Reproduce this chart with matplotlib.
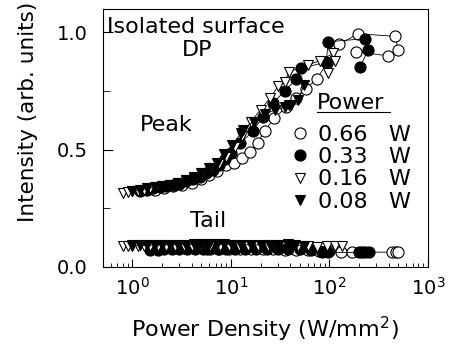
import numpy as np
import matplotlib.pyplot as plt
from matplotlib.lines import Line2D
from matplotlib.ticker import LogLocator, MultipleLocator, NullFormatter

# --- peak data ---
pk_066_x = [1.7, 2.1, 2.6, 3.2, 4.0, 5.0, 6.0, 7.3, 8.9, 10.8, 12.9, 15.5, 18.7, 22, 27.6, 36, 46, 58, 74, 95, 126, 196, 466, 500, 398, 188]
pk_066_y = [0.33, 0.335, 0.345, 0.35, 0.36, 0.375, 0.39, 0.41, 0.436, 0.445, 0.465, 0.49, 0.53, 0.58, 0.634, 0.68, 0.72, 0.76, 0.80, 0.87, 0.95, 0.994, 0.983, 0.925, 0.90, 0.917]

pk_033_x = [1.2, 1.4, 1.6, 1.9, 2.2, 2.6, 3.0, 3.5, 4.1, 4.8, 5.6, 6.5, 7.6, 8.8, 10, 12.5, 16.7, 21, 27, 35, 46, 52, 93, 97, 229, 248, 204]
pk_033_y = [0.325, 0.33, 0.335, 0.34, 0.345, 0.35, 0.355, 0.365, 0.375, 0.385, 0.40, 0.415, 0.435, 0.46, 0.486, 0.53, 0.578, 0.64, 0.70, 0.75, 0.80, 0.846, 0.874, 0.96, 0.973, 0.924, 0.853]

pk_016_x = [0.8, 0.9, 1.0, 1.15, 1.3, 1.5, 1.75, 2.0, 2.4, 2.9, 3.5, 4.2, 5.1, 6.2, 7.5, 9.0, 11, 13, 16, 20, 25, 30, 35, 39, 60, 80, 109, 113, 97]
pk_016_y = [0.315, 0.32, 0.322, 0.325, 0.33, 0.335, 0.34, 0.345, 0.35, 0.36, 0.37, 0.38, 0.40, 0.42, 0.44, 0.47, 0.51, 0.56, 0.62, 0.67, 0.72, 0.77, 0.79, 0.832, 0.86, 0.88, 0.91, 0.88, 0.825]

pk_008_x = [1.0, 1.2, 1.4, 1.7, 2.0, 2.4, 2.9, 3.5, 4.2, 5.0, 6.0, 7.2, 8.6, 10.3, 12.6, 13.2, 17, 22, 28, 35, 39, 41, 48, 55]
pk_008_y = [0.325, 0.33, 0.335, 0.34, 0.345, 0.35, 0.36, 0.37, 0.385, 0.40, 0.42, 0.445, 0.48, 0.52, 0.57, 0.585, 0.62, 0.65, 0.67, 0.68, 0.69, 0.69, 0.71, 0.775]

# --- tail data ---
tl_066_x = [2.0, 2.6, 3.4, 4.4, 5.7, 7.4, 9.6, 12.5, 16, 21, 27, 35, 46, 60, 78, 100, 130, 168, 430, 470, 500]
tl_066_y = [0.08, 0.08, 0.079, 0.079, 0.078, 0.078, 0.077, 0.077, 0.076, 0.076, 0.075, 0.074, 0.073, 0.072, 0.07, 0.068, 0.066, 0.064, 0.063, 0.063, 0.063]

tl_033_x = [1.5, 1.8, 2.1, 2.5, 3.0, 3.6, 4.3, 5.2, 6.2, 7.5, 9.0, 11, 14, 18, 23, 30, 38, 50, 65, 85, 97, 200, 215, 230, 250]
tl_033_y = [0.074, 0.074, 0.075, 0.075, 0.076, 0.076, 0.076, 0.077, 0.077, 0.077, 0.077, 0.078, 0.078, 0.078, 0.078, 0.077, 0.076, 0.075, 0.072, 0.066, 0.062, 0.062, 0.062, 0.062, 0.062]

tl_016_x = [0.8, 0.9, 1.0, 1.15, 1.3, 1.5, 1.8, 2.2, 2.7, 3.3, 4.0, 5.0, 6.2, 7.7, 9.5, 12, 15, 19, 24, 30, 38, 48, 60, 75, 95, 115, 133]
tl_016_y = [0.088, 0.089, 0.089, 0.09, 0.09, 0.09, 0.09, 0.09, 0.091, 0.091, 0.091, 0.091, 0.09, 0.09, 0.09, 0.09, 0.09, 0.09, 0.089, 0.09, 0.092, 0.09, 0.088, 0.086, 0.088, 0.09, 0.09]

tl_008_x = [1.0, 1.2, 1.4, 1.7, 2.0, 2.4, 2.9, 3.5, 4.2, 5.0, 6.0, 7.2, 8.6, 10.3, 12.6, 16, 20, 25, 30, 38, 45, 55]
tl_008_y = [0.092, 0.093, 0.093, 0.094, 0.094, 0.095, 0.095, 0.095, 0.096, 0.096, 0.096, 0.096, 0.096, 0.095, 0.095, 0.095, 0.094, 0.094, 0.095, 0.097, 0.093, 0.09]

labels = ['0.66   W', '0.33   W', '0.16   W', '0.08   W']
markers = ['o', 'o', 'v', 'v']
faces = ['white', 'black', 'white', 'black']
sizes = [8, 8, 7, 7]

peaks = [(pk_066_x, pk_066_y), (pk_033_x, pk_033_y), (pk_016_x, pk_016_y), (pk_008_x, pk_008_y)]
tails = [(tl_066_x, tl_066_y), (tl_033_x, tl_033_y), (tl_016_x, tl_016_y), (tl_008_x, tl_008_y)]

plt.rcParams['font.family'] = 'DejaVu Sans'
fig = plt.figure(figsize=(4.49, 3.56), dpi=100)
ax = fig.add_axes([0.229, 0.25, 0.724, 0.725])

for i in range(4):
    for x, y in (peaks[i], tails[i]):
        ax.plot(x, y, color='black', lw=0.6, marker=markers[i], ms=sizes[i],
                mfc=faces[i], mec='black', mew=0.8)

ax.set_xscale('log')
ax.set_xlim(0.5, 1000)
ax.set_ylim(0, 1.1)
ax.yaxis.set_major_locator(MultipleLocator(0.5))
ax.yaxis.set_minor_locator(MultipleLocator(0.25))
ax.xaxis.set_major_locator(LogLocator(base=10))
ax.xaxis.set_minor_locator(LogLocator(base=10, subs=np.arange(2, 10)))
ax.xaxis.set_minor_formatter(NullFormatter())
ax.tick_params(which='both', direction='in', top=False, right=False, labelsize=14)
ax.tick_params(axis='x', which='major', length=6, pad=7)
ax.tick_params(axis='x', which='minor', length=3)
ax.tick_params(axis='y', which='major', length=7, pad=11)
ax.tick_params(axis='y', which='minor', length=5)
for s in ax.spines.values():
    s.set_linewidth(0.8)

ax.set_xlabel('Power Density (W/mm$^2$)', fontsize=16, labelpad=12)
ax.set_ylabel('Intensity (arb. units)', fontsize=15.5)
ax.yaxis.set_label_coords(-0.2, 0.6)

ax.text(0.012, 0.93, 'Isolated surface', transform=ax.transAxes, fontsize=16, va='center', ha='left')
ax.text(0.29, 0.84, 'DP', transform=ax.transAxes, fontsize=16, va='center', ha='center')
ax.text(0.114, 0.55, 'Peak', transform=ax.transAxes, fontsize=16, va='center', ha='left')
ax.text(0.268, 0.18, 'Tail', transform=ax.transAxes, fontsize=16, va='center', ha='left')

# legend
ax.text(0.658, 0.636, 'Power', transform=ax.transAxes, fontsize=16, va='center', ha='left')
ax.plot([0.658, 0.883], [0.6, 0.6], transform=ax.transAxes, color='black', lw=0.8)
handles = [Line2D([], [], ls='none', marker=markers[i], ms=sizes[i], mfc=faces[i],
                  mec='black', mew=0.8) for i in range(4)]
ax.legend(handles, labels, loc='upper left', bbox_to_anchor=(0.572, 0.55), frameon=False,
          fontsize=16, borderpad=0, borderaxespad=0, handlelength=1.0, handletextpad=0.3,
          labelspacing=0.1)

fig.savefig('out.png', dpi=100)
